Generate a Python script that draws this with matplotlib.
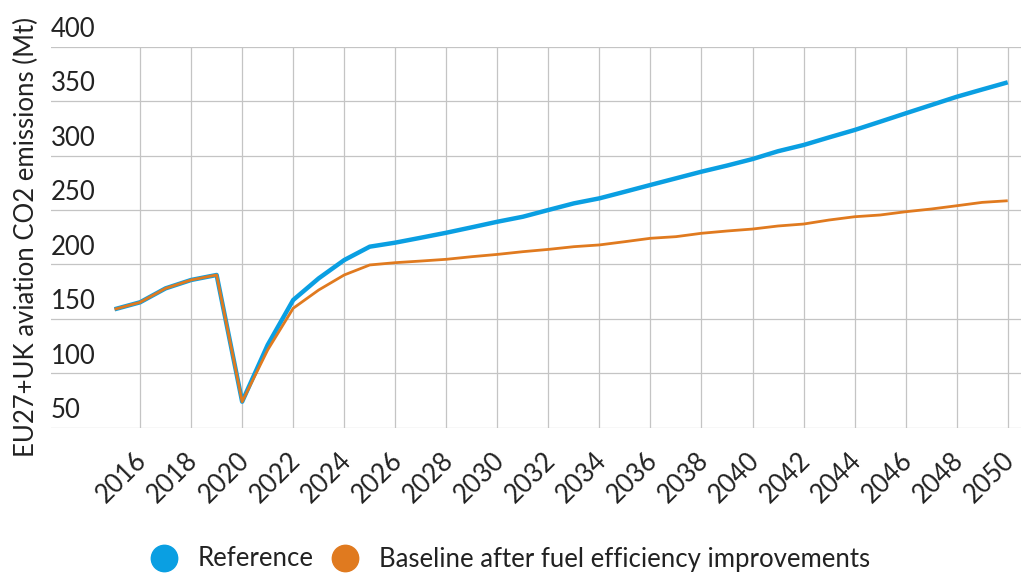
import numpy as np
import matplotlib
matplotlib.use("Agg")
import matplotlib.pyplot as plt
from matplotlib.lines import Line2D
from matplotlib.transforms import ScaledTranslation

plt.rcParams["font.family"] = ["Lato", "DejaVu Sans"]

# data (Mt CO2)
years = list(range(2015, 2051))
reference = [158.8, 165.2, 178.0, 185.7, 190.3, 73.9, 126.0, 167.3, 187.2, 204.0,
             216.3, 220.0, 224.5, 229.1, 234.1, 239.2, 243.8, 250.0, 256.1, 260.7,
             266.8, 273.0, 279.1, 285.2, 290.8, 296.8, 304.0, 309.7, 316.7, 323.5,
             331.1, 338.8, 346.4, 354.0, 360.7, 367.3]
baseline = [158.8, 165.2, 178.0, 185.7, 190.3, 73.9, 121.4, 159.7, 176.5, 190.3,
            199.5, 201.6, 203.1, 204.7, 207.1, 209.2, 211.7, 213.8, 216.3, 217.9,
            220.9, 224.0, 225.5, 228.6, 230.7, 232.5, 235.3, 237.1, 240.8, 243.8,
            245.4, 248.4, 250.9, 253.9, 257.0, 258.5]
x_ticks = list(range(2016, 2051, 2))
y_ticks = [50, 100, 150, 200, 250, 300, 350, 400]
series_names = ["Reference", "Baseline after fuel efficiency improvements"]
colors = ["#0a9fe2", "#e07a1f"]
y_title = "EU27+UK aviation CO2 emissions (Mt)"

fs = 18.5
fig = plt.figure(figsize=(10.21, 5.74), dpi=100)
ax = fig.add_axes([0.0497, 0.2549, 0.9503, 0.6637])

ax.plot(years, reference, color=colors[0], lw=3.2, solid_capstyle="butt", zorder=3)
ax.plot(years, baseline, color=colors[1], lw=2.0, solid_capstyle="butt", zorder=4)

ax.set_xlim(2012.5, 2050.52)
ax.set_ylim(50, 400)
ax.set_xticks(x_ticks)
ax.set_yticks(y_ticks)
ax.grid(True, color="#c4c4c4", lw=0.9)
ax.set_axisbelow(True)
for s in ax.spines.values():
    s.set_visible(False)

# y labels sit on top of their gridlines, left aligned
ax.tick_params(axis="y", length=0, pad=0, labelsize=fs, colors="#222222")
for lab in ax.get_yticklabels():
    lab.set_horizontalalignment("left")
    lab.set_verticalalignment("baseline")
    lab.set_transform(lab.get_transform() + ScaledTranslation(0, 0.097, fig.dpi_scale_trans))

ax.tick_params(axis="x", length=0, pad=16, labelsize=fs, colors="#222222")
for lab in ax.get_xticklabels():
    lab.set_rotation(45)
    lab.set_horizontalalignment("right")
    lab.set_verticalalignment("center")
    lab.set_rotation_mode("anchor")
    lab.set_transform(lab.get_transform() + ScaledTranslation(0.03, -0.07, fig.dpi_scale_trans))

ax.set_ylabel(y_title, fontsize=fs, color="#222222")
ax.yaxis.set_label_coords(-0.012, 0.5)

handles = [Line2D([], [], ls="none", marker="o", ms=19, color=c, mec=c) for c in colors]
fig.legend(handles, series_names, loc="center", bbox_to_anchor=(0.5, 1 - 559 / 574),
           ncol=2, frameon=False, fontsize=fs, handlelength=1.0, handletextpad=0.8,
           columnspacing=0.75, labelcolor="#222222")

fig.savefig("out.png", dpi=100)
